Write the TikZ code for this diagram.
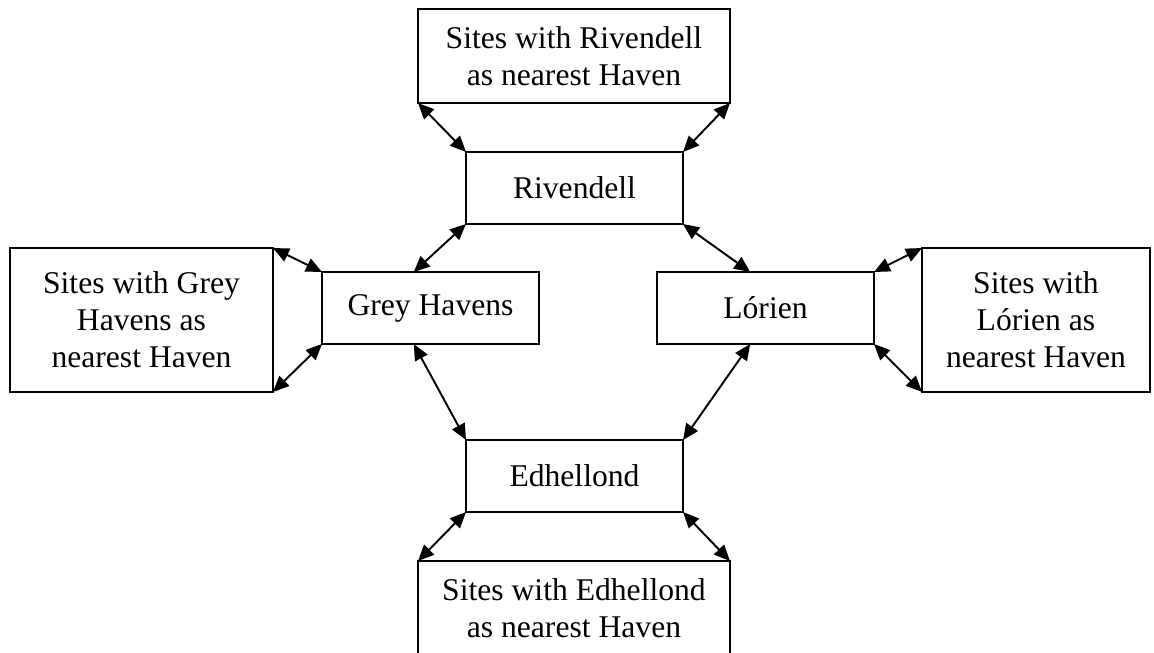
\documentclass[tikz,border=0pt]{standalone}
\usepackage{fontspec}
\setmainfont{Liberation Serif}
\usepackage{tikz}
\usetikzlibrary{
    positioning,
    arrows.meta
}

\begin{document}
\begin{tikzpicture}[x=0.02cm, y=-0.02cm, >={Triangle[length=0.32cm, width=0.28cm]},
        haven/.style={draw, line width=1.1pt, inner sep=0pt, outer sep=0pt,
            minimum width=4.34cm, minimum height=1.44cm, align=center,
            font=\fontsize{18}{21}\selectfont},
        sites/.style={haven, minimum width=6.24cm, minimum height=1.88cm},
        link/.style={<->, line width=1.1pt}]
        \useasboundingbox (0,0) rectangle (1154,653);

        % the four Havens
        \node[haven] (riv) at (574.5,188) {Rivendell};
        \node[haven] (gh) at (430.5,308) {Grey Havens};
        \node[haven] (lor) at (765.5,308) {Lórien};
        \node[haven] (edh) at (574.5,476) {Edhellond};

        % sites round them
        \node[sites] (sriv) at (574,56) {Sites with Rivendell\\as nearest Haven};
        \node[sites, minimum width=5.26cm, minimum height=2.88cm] (sgh) at (141.5,320)
            {Sites with Grey\\Havens as\\nearest Haven};
        \node[sites, minimum width=4.56cm, minimum height=2.88cm] (slor) at (1036,320)
            {Sites with\\Lórien as\\nearest Haven};
        \node[sites] (sedh) at (574,608) {Sites with Edhellond\\as nearest Haven};

        \draw[link] (sriv.south west) -- (riv.north west);
        \draw[link] (sriv.south east) -- (riv.north east);
        \draw[link] (sgh.north east) -- (gh.north west);
        \draw[link] (sgh.south east) -- (gh.south west);
        \draw[link] (slor.north west) -- (lor.north east);
        \draw[link] (slor.south west) -- (lor.south east);
        \draw[link] (sedh.north west) -- (edh.south west);
        \draw[link] (sedh.north east) -- (edh.south east);

        \draw[link] (riv.south west) -- (gh.115);
        \draw[link] (riv.south east) -- (lor.113);
        \draw[link] (edh.north west) -- (gh.245);
        \draw[link] (edh.north east) -- (lor.247);
    \end{tikzpicture}
\end{document}
